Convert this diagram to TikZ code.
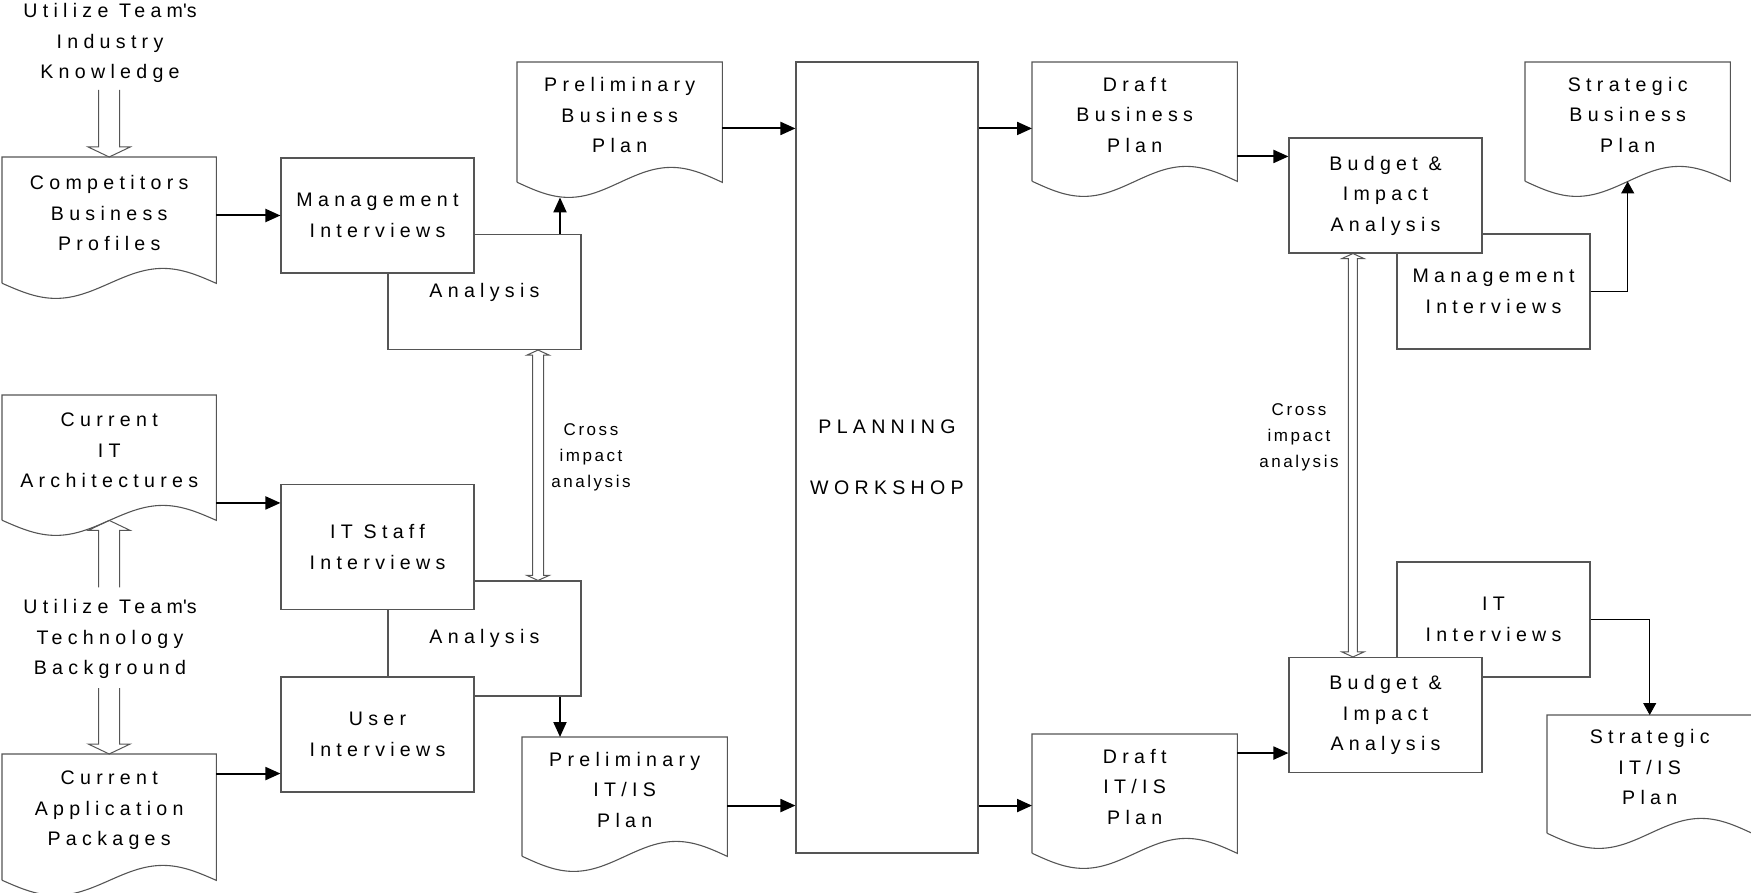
\documentclass[tikz,border=0pt]{standalone}
\usepackage{fontspec}
\newfontfamily\boxfont[LetterSpace=27]{Liberation Sans}
\newfontfamily\crossfont[LetterSpace=15]{Liberation Sans}
\usetikzlibrary{arrows.meta,calc}
\definecolor{edgegray}{RGB}{85,85,85}

\tikzset{
    box/.style={draw=edgegray, line width=1.1pt, fill=white, inner sep=0pt, minimum width=193pt, minimum height=115pt, align=center, font=\boxfont\fontsize{19.6}{30.5}\selectfont},
    docbody/.style={inner sep=0pt},
    doctext/.style={align=center, inner sep=0pt, font=\boxfont\fontsize{19.6}{30.5}\selectfont},
    plaintext/.style={align=center, inner sep=0pt, font=\boxfont\fontsize{19.6}{30.5}\selectfont},
    crosstext/.style={align=center, inner sep=0pt, font=\crossfont\fontsize{17}{26}\selectfont},
    outline/.style={draw=edgegray, line width=1.1pt},
    fat/.style={draw=edgegray, line width=1pt},
    arr/.style={line width=2pt, -{Triangle[length=15pt,width=13pt]}},
    thinarr/.style={line width=1pt, -{Triangle[length=12pt,width=13pt]}}
}

\newcommand{\docnode}[6]{%
    \node[docbody, minimum width=#4pt, minimum height=#5pt, anchor=north west] (#1) at (#2,#3) {};
    \draw[outline] (#1.south west) -- (#1.north west) -- (#1.north east) -- (#1.south east)
        sin ++(-#4/4,-15) cos ++(-#4/4,15) sin ++(-#4/4,15) cos ++(-#4/4,-15);
    \node[doctext] (#1-t) at ([yshift=7pt]#1.center) {#6};
}
\newcommand{\fatdown}[2]{\draw[fat] (#1) ++(-10.5,-#2) -- ++(0,#2-10) -- ++(-10.5,0) -- (#1) -- ++(21,-10) -- ++(-10.5,0) -- ++(0,-#2+10);}
\newcommand{\fatup}[2]{\draw[fat] (#1) ++(-10.5,#2) -- ++(0,-#2+10) -- ++(-10.5,0) -- (#1) -- ++(21,10) -- ++(-10.5,0) -- ++(0,#2-10);}
\newcommand{\fatboth}[3]{\draw[fat] (#1) -- ++(11,5) -- ++(-11+#3,0) -- ($(#2)+(#3,-5)$) -- ++(11-#3,0) -- (#2) -- ++(-11,-5) -- ++(11-#3,0) -- ($(#1)+(-#3,5)$) -- ++(-11+#3,0) -- cycle;}

\begin{document}
\begin{tikzpicture}[x=1pt,y=-1pt]
    \useasboundingbox (0,0) rectangle (1751,893);

    \node[plaintext] (uik) at (110,43) {Utilize Team\textquotesingle s\\Industry\\Knowledge};
    \node[plaintext] (utb) at (110,639) {Utilize Team\textquotesingle s\\Technology\\Background};

    \docnode{comp}{2}{157}{214}{126}{Competitors\\Business\\Profiles}
    \docnode{curit}{2}{395}{214}{125}{Current\\IT\\Architectures}
    \docnode{curapp}{2}{754}{214}{126}{Current\\Application\\Packages}

    \fatdown{comp.north}{67}
    \fatup{curit.south}{67}
    \fatdown{curapp.north}{66}

    \node[box] (anaA) at (484.5,292) {Analysis};
    \node[box] (mgmtA) at (377.5,215.5) {Management\\Interviews};
    \node[box] (anaB) at (484.5,638.5) {Analysis};
    \node[box, minimum height=125pt] (itstaff) at (377.5,547) {IT Staff\\Interviews};
    \node[box] (user) at (377.5,734.5) {User\\Interviews};

    \docnode{pbp}{517}{62}{205}{120}{Preliminary\\Business\\Plan}
    \docnode{pit}{522}{737}{205}{119}{Preliminary\\IT/IS\\Plan}

    \node[box, minimum width=182pt, minimum height=791pt] (ws) at (887,457.5) {PLANNING\\[31pt]WORKSHOP};

    \docnode{dbp}{1032}{62}{205}{119}{Draft\\Business\\Plan}
    \docnode{dit}{1032}{734}{205}{119}{Draft\\IT/IS\\Plan}

    \node[box] (mgmtB) at (1493.5,291.5) {Management\\Interviews};
    \node[box] (budA) at (1385.5,195.5) {Budget \&\\Impact\\Analysis};
    \node[box] (itint) at (1493.5,619.5) {IT\\Interviews};
    \node[box] (budB) at (1385.5,715) {Budget \&\\Impact\\Analysis};

    \docnode{sbp}{1525}{62}{205}{119}{Strategic\\Business\\Plan}
    \docnode{sit}{1547}{715}{205}{118}{Strategic\\IT/IS\\Plan}

    \node[crosstext] (crossA) at (591,457) {Cross\\impact\\analysis};
    \node[crosstext] (crossB) at (1299,437) {Cross\\impact\\analysis};

    \coordinate (xa1) at ([xshift=-43.5pt]anaA.south east);
    \coordinate (xa2) at ([xshift=-43.5pt]anaB.north east);
    \coordinate (xb1) at ([xshift=64.5pt]budA.south west);
    \coordinate (xb2) at ([xshift=64.5pt]budB.north west);
    \fatboth{xa1}{xa2}{5.5}
    \fatboth{xb1}{xb2}{4.5}

    \coordinate (itin) at ([yshift=-19pt]itstaff.north west);
    \coordinate (userin) at ([yshift=19pt]user.south west);
    \coordinate (pbpdip) at ([xshift=43pt,yshift=-15pt]pbp.south west);
    \coordinate (pitin) at ([xshift=38pt]pit.north west);
    \coordinate (wsin1) at ([yshift=-67pt]ws.north west);
    \coordinate (wsin2) at ([yshift=48pt]ws.south west);
    \coordinate (budAin) at ([yshift=-19pt]budA.north west);
    \coordinate (budBin) at ([yshift=20pt]budB.south west);

    \draw[arr] (comp.east |- mgmtA.west) -- (mgmtA.west);
    \draw[arr] (curit.east |- itin) -- (itin);
    \draw[arr] (curapp.east |- userin) -- (userin);
    \draw[arr] (anaA.north -| pbpdip) -- (pbpdip);
    \draw[arr] (anaB.south -| pitin) -- (pitin);
    \draw[arr] (pbp.east |- wsin1) -- (wsin1);
    \draw[arr] (pit.east |- wsin2) -- (wsin2);
    \draw[arr] (ws.east |- wsin1) -- (dbp.west |- wsin1);
    \draw[arr] (ws.east |- wsin2) -- (dit.west |- wsin2);
    \draw[arr] (dbp.east |- budAin) -- (budAin);
    \draw[arr] (dit.east |- budBin) -- (budBin);
    \draw[thinarr] (mgmtB.east) -| (sbp.south);
    \draw[thinarr] (itint.east) -| (sit.north);
\end{tikzpicture}
\end{document}
